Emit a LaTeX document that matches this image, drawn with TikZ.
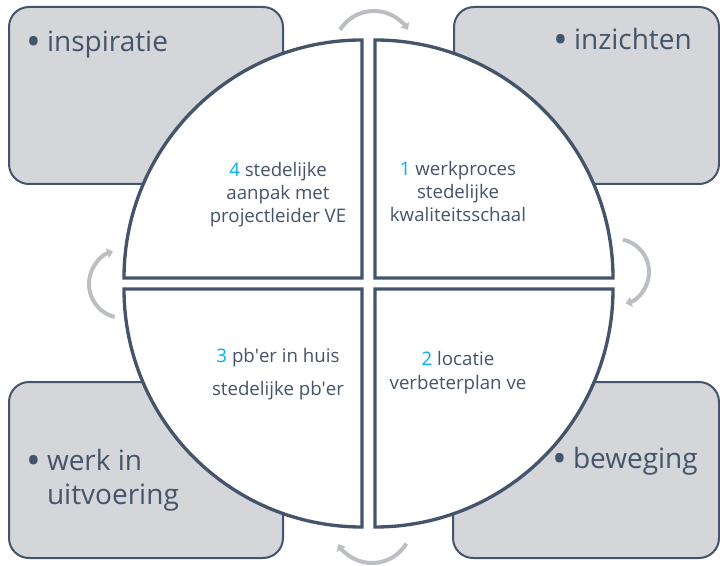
\documentclass[tikz,border=0pt]{standalone}
\usepackage{fontspec}
\setmainfont{Open Sans}
\usetikzlibrary{arrows.meta}
\definecolor{leisteen}{HTML}{44546A}
\definecolor{kadergrijs}{HTML}{D5D6D9}
\definecolor{cijferblauw}{HTML}{00B0F0}
\definecolor{cyclusgrijs}{HTML}{BBBEC2}
\NewDocumentCommand{\cijfer}{ m }{\textcolor{cijferblauw}{#1}}
\NewDocumentCommand{\punt}{ }{\raisebox{-3pt}{\scalebox{1.4}{\textbullet}}\hspace{4.5pt}}

\begin{document}
\begin{tikzpicture}[x=0.75pt,y=-0.75pt,
    kader/.style={draw=leisteen,line width=1.5pt,fill=kadergrijs,rounded corners=15pt},
    kwart/.style={draw=leisteen,line width=2.5pt,fill=white},
    kop/.style={text=leisteen,font=\fontsize{21}{25.5}\selectfont,inner sep=0pt,anchor=base west,align=left},
    tekst/.style={text=leisteen,font=\fontsize{14}{17.6}\selectfont,inner sep=0pt,anchor=base,align=center},
    pijl/.style={draw=cyclusgrijs,line width=3pt,-{Triangle[length=4.5pt,width=7.5pt]}}]
\useasboundingbox (0,0) rectangle (720,566);
\draw[kader] (9,7) rectangle (283,184);
\draw[kader] (454,7) rectangle (719,184);
\draw[kader] (9,382) rectangle (283,558);
\draw[kader] (453,382) rectangle (719,558);
\draw[kwart] (362,278) -- ++(-238,0) arc[start angle=180,end angle=270,radius=238] -- cycle;
\draw[kwart] (375,278) -- ++(0,-238) arc[start angle=270,end angle=360,radius=238] -- cycle;
\draw[kwart] (375,289) -- ++(238,0) arc[start angle=0,end angle=90,radius=238] -- cycle;
\draw[kwart] (362,289) -- ++(0,238) arc[start angle=90,end angle=180,radius=238] -- cycle;
\draw[pijl] (374,51) ++(-148:40) arc[start angle=-148,end angle=-32,radius=40];
\draw[pijl] (616,272) ++(-78:33) arc[start angle=-78,end angle=73,radius=33];
\draw[pijl] (372,523) ++(31:40) arc[start angle=31,end angle=148,radius=40];
\draw[pijl] (123,284) ++(-256:34) arc[start angle=-256,end angle=-107,radius=34];
\node[kop] (inspiratie) at (26,52) {\punt inspiratie};
\node[kop] (inzichten) at (553,50) {\punt inzichten};
\node[kop] (beweging) at (552,468) {\punt beweging};
\node[kop] (uitvoering) at (26,504) {\punt werk in\\\phantom{\punt}uitvoering};
\node[tekst] (aanpak) at (278,223) {\cijfer{4} stedelijke\\aanpak met\\projectleider VE};
\node[tekst] (werkproces) at (458,222) {\cijfer{1} werkproces\\stedelijke\\kwaliteitsschaal};
\node[tekst] (pber) at (278,395) {\cijfer{3} pb\textquotesingle er in huis\\[7pt]stedelijke pb\textquotesingle er};
\node[tekst] (locatie) at (458,389) {\cijfer{2} locatie\\verbeterplan ve};
\end{tikzpicture}
\end{document}
